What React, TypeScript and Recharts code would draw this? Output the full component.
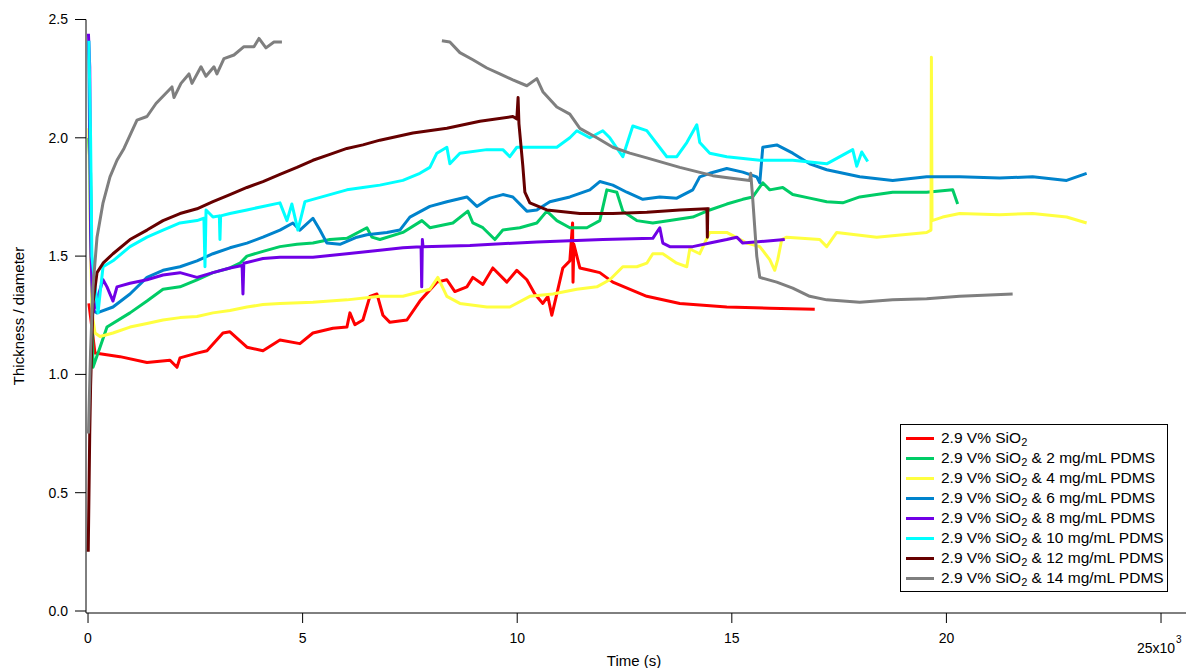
import React from 'react';
import { LineChart, Line, XAxis, YAxis } from 'recharts';

// time (s), thickness / diameter
const red = [
  [20, 1.3], [163, 1.09], [745, 1.075], [1374, 1.05], [1910, 1.06], [2073, 1.03], [2143, 1.07],
  [2539, 1.09], [2772, 1.1], [3144, 1.175], [3307, 1.18], [3703, 1.115], [4076, 1.1], [4472, 1.145],
  [4937, 1.13], [5240, 1.175], [5706, 1.195], [6032, 1.2], [6102, 1.26], [6218, 1.21], [6405, 1.23],
  [6568, 1.33], [6731, 1.34], [6871, 1.25], [7034, 1.22], [7430, 1.23], [7732, 1.31], [8128, 1.39],
  [8361, 1.4], [8547, 1.35], [8827, 1.37], [8967, 1.41], [9200, 1.38], [9432, 1.45], [9758, 1.39],
  [9991, 1.44], [10224, 1.4], [10411, 1.34], [10597, 1.3], [10713, 1.33], [10806, 1.25], [10923, 1.34],
  [11063, 1.45], [11226, 1.48], [11290, 1.64], [11300, 1.39], [11320, 1.55], [11459, 1.45], [11692, 1.44],
  [11924, 1.43], [12227, 1.39], [13019, 1.33], [13788, 1.3], [14882, 1.285], [15884, 1.28], [16932, 1.275],
];

const green = [
  [10, 2.0], [60, 1.85], [116, 1.03], [280, 1.115], [442, 1.2], [978, 1.26], [1374, 1.31], [1747, 1.36],
  [2143, 1.37], [2539, 1.4], [2911, 1.43], [3307, 1.45], [3540, 1.47], [3703, 1.5], [4076, 1.52],
  [4472, 1.54], [4868, 1.55], [5240, 1.555], [5636, 1.57], [6032, 1.575], [6498, 1.62], [6614, 1.58],
  [6801, 1.57], [7336, 1.6], [7779, 1.65], [7965, 1.62], [8501, 1.64], [8850, 1.69], [8967, 1.64],
  [9200, 1.62], [9479, 1.57], [9665, 1.61], [10061, 1.62], [10457, 1.64], [10690, 1.69], [10923, 1.65],
  [11226, 1.62], [11622, 1.62], [11924, 1.65], [12088, 1.78], [12320, 1.77], [12460, 1.69], [12786, 1.65],
  [13159, 1.64], [13555, 1.65], [14090, 1.665], [14486, 1.695], [14882, 1.72], [15255, 1.74], [15488, 1.75],
  [15721, 1.81], [15884, 1.78], [16186, 1.79], [16419, 1.76], [16815, 1.745], [17211, 1.73], [17584, 1.725],
  [17980, 1.75], [18376, 1.76], [18748, 1.77], [19540, 1.77], [20146, 1.78], [20262, 1.72],
];

const yellow = [
  [20, 2.04], [60, 1.5], [100, 1.25], [163, 1.175], [280, 1.16], [582, 1.175], [978, 1.2], [1374, 1.215],
  [1747, 1.23], [2143, 1.24], [2539, 1.245], [2911, 1.26], [3307, 1.27], [3703, 1.285], [4076, 1.295],
  [4472, 1.3], [5240, 1.305], [6032, 1.315], [6801, 1.33], [7336, 1.33], [7965, 1.36], [8151, 1.41],
  [8361, 1.33], [8664, 1.3], [9293, 1.285], [9828, 1.285], [10294, 1.33], [10830, 1.34], [11389, 1.36],
  [11855, 1.37], [12157, 1.4], [12460, 1.455], [12786, 1.455], [13019, 1.47], [13159, 1.51], [13392, 1.51],
  [13718, 1.47], [13951, 1.455], [14021, 1.53], [14253, 1.51], [14486, 1.6], [14882, 1.6], [15348, 1.555],
  [15651, 1.54], [15884, 1.485], [16000, 1.44], [16070, 1.485], [16163, 1.57], [16279, 1.58], [17048, 1.57],
  [17211, 1.54], [17444, 1.6], [18376, 1.58], [19540, 1.6], [19640, 1.61], [19650, 2.34], [19665, 1.65],
  [19913, 1.665], [20309, 1.68], [21240, 1.675], [22009, 1.68], [22801, 1.665], [23267, 1.64],
];

const blue = [
  [15, 2.41], [60, 1.6], [116, 1.27], [210, 1.26], [582, 1.285], [978, 1.34], [1374, 1.41], [1747, 1.44],
  [2143, 1.455], [2539, 1.48], [2911, 1.51], [3307, 1.535], [3703, 1.555], [4076, 1.58], [4472, 1.61],
  [4774, 1.64], [4937, 1.61], [5240, 1.66], [5403, 1.61], [5566, 1.555], [5869, 1.55], [6265, 1.58],
  [6498, 1.59], [6964, 1.6], [7266, 1.61], [7499, 1.665], [7965, 1.71], [8361, 1.73], [8827, 1.75],
  [9060, 1.71], [9363, 1.745], [9665, 1.76], [9898, 1.75], [10224, 1.69], [10457, 1.695], [10760, 1.73],
  [11226, 1.75], [11692, 1.78], [11924, 1.815], [12227, 1.8], [12553, 1.77], [12926, 1.74], [13322, 1.75],
  [13718, 1.745], [14090, 1.78], [14253, 1.835], [14486, 1.85], [14882, 1.87], [15255, 1.855], [15581, 1.835],
  [15651, 1.81], [15721, 1.96], [16047, 1.97], [16419, 1.935], [16815, 1.89], [17211, 1.865], [17980, 1.835],
  [18748, 1.82], [19540, 1.835], [20309, 1.835], [21240, 1.83], [22009, 1.835], [22801, 1.82], [23267, 1.85],
];

const purple = [
  [10, 2.44], [40, 2.3], [70, 1.5], [116, 1.26], [350, 1.4], [442, 1.37], [582, 1.31], [675, 1.37],
  [978, 1.385], [1374, 1.4], [1747, 1.42], [2143, 1.43], [2539, 1.41], [2911, 1.43], [3307, 1.45],
  [3590, 1.46], [3610, 1.34], [3630, 1.47], [4076, 1.49], [4472, 1.495], [5240, 1.495], [6032, 1.51],
  [6801, 1.525], [7336, 1.535], [7760, 1.54], [7775, 1.37], [7790, 1.57], [7805, 1.54], [8897, 1.545],
  [10457, 1.56], [11994, 1.57], [13159, 1.575], [13322, 1.62], [13392, 1.555], [13555, 1.54], [14090, 1.54],
  [14486, 1.555], [14882, 1.57], [15115, 1.58], [15255, 1.555], [16233, 1.57],
];

const cyan = [
  [20, 2.41], [60, 2.0], [90, 1.5], [233, 1.26], [280, 1.34], [350, 1.455], [582, 1.48], [978, 1.54],
  [1374, 1.58], [1747, 1.61], [2143, 1.64], [2539, 1.65], [2700, 1.66], [2725, 1.455], [2750, 1.695],
  [2911, 1.665], [3060, 1.67], [3074, 1.57], [3090, 1.67], [3307, 1.68], [3703, 1.695], [4076, 1.71],
  [4472, 1.725], [4635, 1.65], [4750, 1.72], [4890, 1.61], [5054, 1.73], [5240, 1.74], [5636, 1.76],
  [6032, 1.78], [6405, 1.79], [6801, 1.8], [7336, 1.82], [7732, 1.85], [7965, 1.875], [8128, 1.935],
  [8361, 1.96], [8431, 1.89], [8664, 1.935], [9293, 1.95], [9665, 1.95], [9828, 1.92], [9991, 1.96],
  [10457, 1.96], [10923, 1.96], [11226, 2.0], [11389, 2.03], [11692, 2.0], [11994, 2.03], [12157, 2.0],
  [12460, 1.92], [12693, 2.05], [13019, 2.03], [13485, 1.92], [13718, 1.92], [13951, 1.98], [14184, 2.055],
  [14253, 1.98], [14486, 1.935], [14882, 1.92], [15651, 1.905], [16419, 1.905], [17211, 1.89], [17817, 1.95],
  [17910, 1.88], [18027, 1.94], [18166, 1.9],
];

const darkRed = [
  [5, 0.25], [40, 0.75], [60, 0.95], [116, 1.3], [210, 1.43], [350, 1.47], [582, 1.51], [978, 1.57],
  [1374, 1.61], [1747, 1.65], [2143, 1.68], [2539, 1.7], [2911, 1.73], [3307, 1.76], [3703, 1.79],
  [4076, 1.815], [4472, 1.845], [4868, 1.875], [5240, 1.905], [5636, 1.93], [6032, 1.955], [6405, 1.97],
  [6801, 1.99], [7569, 2.02], [8361, 2.04], [9130, 2.07], [9898, 2.09], [9991, 2.08], [10020, 2.17],
  [10040, 2.06], [10131, 1.88], [10178, 1.77], [10294, 1.725], [10690, 1.695], [11459, 1.68], [12227, 1.68],
  [13019, 1.685], [13788, 1.695], [14420, 1.7], [14430, 1.58], [14440, 1.7], [14480, 1.7],
];

const gray: (number | null)[][] = [
  [10, 0.75], [60, 1.1], [116, 1.37], [210, 1.58], [350, 1.725], [512, 1.835], [675, 1.905], [838, 1.955],
  [1001, 2.02], [1141, 2.075], [1374, 2.09], [1584, 2.145], [1770, 2.18], [1956, 2.215], [2003, 2.17],
  [2166, 2.23], [2352, 2.27], [2422, 2.23], [2632, 2.3], [2748, 2.26], [2935, 2.3], [3004, 2.27],
  [3167, 2.335], [3400, 2.35], [3633, 2.385], [3866, 2.385], [3983, 2.42], [4146, 2.38], [4332, 2.405],
  [4518, 2.405], [6000, null], [8245, 2.41], [8431, 2.405], [8664, 2.36], [8967, 2.33], [9293, 2.295],
  [9595, 2.27], [9898, 2.245], [10224, 2.22], [10457, 2.25], [10597, 2.195], [10923, 2.13], [11226, 2.1],
  [11459, 2.04], [11855, 2.0], [12227, 1.96], [12623, 1.935], [13019, 1.915], [13788, 1.875], [14556, 1.84],
  [14952, 1.83], [15418, 1.82], [15441, 1.85], [15488, 1.74], [15581, 1.5], [15651, 1.41], [16047, 1.39],
  [16419, 1.365], [16815, 1.33], [17211, 1.315], [17980, 1.305], [18748, 1.315], [19540, 1.32],
  [20309, 1.33], [21543, 1.34],
];

const concentrations = ['', '2', '4', '6', '8', '10', '12', '14'];
const colors = ['#ff0000', '#00cc66', '#ffff40', '#0083cc', '#7000e6', '#00ffff', '#660000', '#7f7f7f'];
const seriesData = [red, green, yellow, blue, purple, cyan, darkRed, gray];

const xTicks = [0, 5000, 10000, 15000, 20000, 25000];
const yTicks = [0, 0.5, 1.0, 1.5, 2.0, 2.5];

const font = '"Liberation Sans", Arial, sans-serif';

const toPts = (a: (number | null)[][]) => a.map(([t, v]) => ({ t, v }));

const XTick = (props: any) => {
  const { x, y, payload } = props;
  const val = payload.value as number;
  if (val === 25000) {
    return (
      <g>
        <text x={x - 5} y={y + 10} dy="0.71em" textAnchor="middle" fontSize={14} fontFamily={font} fill="#000">
          25x10
        </text>
        <text x={x + 15} y={y + 3} dy="0.71em" textAnchor="start" fontSize={10} fontFamily={font} fill="#000">
          3
        </text>
      </g>
    );
  }
  return (
    <text x={x} y={y} dy="0.71em" textAnchor="middle" fontSize={14} fontFamily={font} fill="#000">
      {val / 1000}
    </text>
  );
};

const LegendBox = () => (
  <div
    style={{
      position: 'absolute', left: 900, top: 424, width: 266, height: 166,
      border: '1px solid #000', background: '#fff', fontFamily: font, fontSize: 15.5,
    }}
  >
    {concentrations.map((c, i) => (
      <div key={i} style={{ position: 'absolute', left: 5, top: 3 + i * 20.05, height: 20, display: 'flex', alignItems: 'center', whiteSpace: 'nowrap' }}>
        <span style={{ display: 'inline-block', width: 28, height: 3, background: colors[i], marginRight: 7 }} />
        <span>
          2.9 V% SiO<sub style={{ fontSize: 11, verticalAlign: -3, lineHeight: 0 }}>2</sub>
          {c ? ` & ${c} mg/mL PDMS` : ''}
        </span>
      </div>
    ))}
  </div>
);

export default function App() {
  return (
    <div style={{ position: 'absolute', left: 0, top: 0, width: 1186, height: 668, background: '#fff', overflow: 'hidden' }}>
      <LineChart width={1186} height={668} margin={{ top: 19.5, right: 0, bottom: 0, left: 0 }}>
        <XAxis
          type="number"
          dataKey="t"
          domain={[-47, 25582]}
          ticks={xTicks}
          allowDataOverflow
          height={55}
          tickSize={10}
          tickMargin={10}
          tick={<XTick />}
          axisLine={{ stroke: '#000', strokeWidth: 1 }}
          tickLine={{ stroke: '#000', strokeWidth: 1 }}
        />
        <YAxis
          type="number"
          domain={[-0.00845, 2.5]}
          ticks={yTicks}
          allowDataOverflow
          width={86}
          tickSize={11}
          tickMargin={7}
          tickFormatter={(v: number) => v.toFixed(1)}
          tick={{ fill: '#000', fontSize: 14, fontFamily: font }}
          axisLine={{ stroke: '#000', strokeWidth: 1 }}
          tickLine={{ stroke: '#000', strokeWidth: 1 }}
        />
        {seriesData.map((s, i) => (
          <Line
            key={i}
            data={toPts(s)}
            dataKey="v"
            type="linear"
            stroke={colors[i]}
            strokeWidth={3}
            dot={false}
            activeDot={false}
            isAnimationActive={false}
            strokeLinejoin="round"
          />
        ))}
      </LineChart>
      <LegendBox />
      <div style={{ position: 'absolute', left: 0, top: 652, width: 1268, textAlign: 'center', fontFamily: font, fontSize: 15 }}>
        Time (s)
      </div>
      <div
        style={{
          position: 'absolute', left: 18, top: 316, fontFamily: font, fontSize: 15, whiteSpace: 'nowrap',
          transform: 'translate(-50%, -50%) rotate(-90deg)',
        }}
      >
        Thickness / diameter
      </div>
    </div>
  );
}
